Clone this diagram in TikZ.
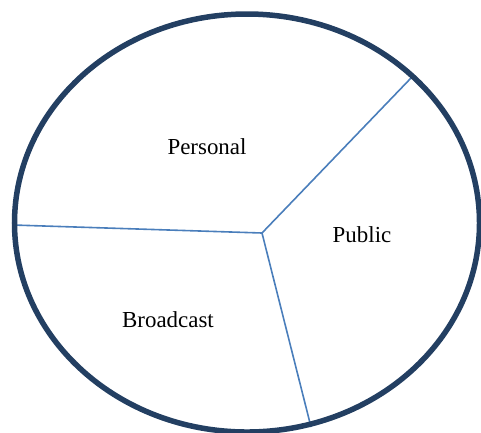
\documentclass[tikz,border=0pt]{standalone}
\usepackage{fontspec}
\setmainfont{Liberation Serif}
\usepackage{tikz}

\begin{document}
\begin{tikzpicture}[x=1bp, y=-1bp,
		rim/.style = {draw=rimblue, line width=5.5bp},
		divider/.style = {draw=lineblue, line width=1.6bp},
		sector/.style = {font=\fontsize{23}{27}\selectfont, inner sep=0pt}]
		\definecolor{rimblue}{HTML}{233F62}
		\definecolor{lineblue}{HTML}{4A7EBB}
		\useasboundingbox (0,0) rectangle (481,432);

		\coordinate (hub) at (262,233);
		\coordinate (w) at (13,225);
		\coordinate (ne) at (411,78);
		\coordinate (s) at (311,427);

		\draw[divider] (hub) -- (w);
		\draw[divider] (hub) -- (ne);
		\draw[divider] (hub) -- (s);
		\draw[rim] (247,223) ellipse [x radius=232.5bp, y radius=209bp];

		\node[sector] (personal) at (207,147) {Personal};
		\node[sector] (public) at (362,235) {Public};
		\node[sector] (broadcast) at (168,320) {Broadcast};
	\end{tikzpicture}
\end{document}
